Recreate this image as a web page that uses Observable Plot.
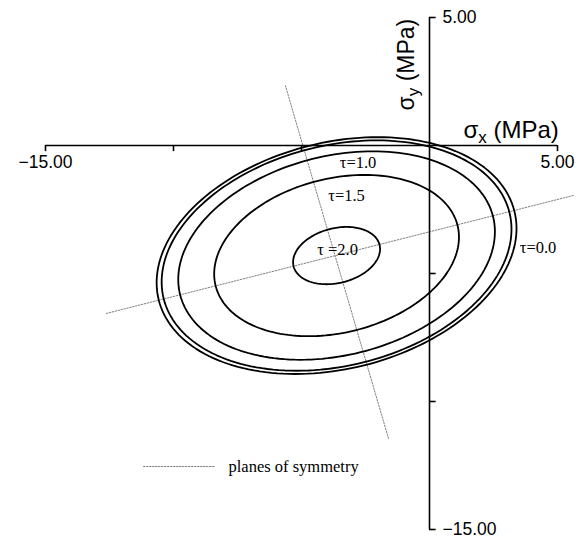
<!DOCTYPE html>
<html>
<head>
<meta charset="utf-8">
<script src="https://cdn.jsdelivr.net/npm/d3@7"></script>
<script src="https://cdn.jsdelivr.net/npm/@observablehq/plot@0.6"></script>
<style>
  html, body { margin: 0; padding: 0; background: #fff; }
  #chart svg { display: block; }
</style>
</head>
<body>
<div id="chart"></div>
<script>
// ---- data ----
const tauValues   = [0.0, 0.5, 1.0, 1.5, 2.0];
const semiMajor   = [7.16, 6.96, 6.30, 4.87, 1.73];   // MPa
const semiMinor   = [4.42, 4.30, 3.89, 3.01, 1.07];   // MPa
const centerX = -3.63, centerY = -4.30;              // MPa
const tiltDeg = 14;                                   // major axis tilt

const tauLabels = ["τ=0.0", "τ=1.0", "τ=1.5", "τ =2.0"];
const tauLabelX = [4.24, -2.79, -3.24, -3.59];
const tauLabelY = [-4.18, -0.86, -2.15, -4.26];

const symId = ["major", "major", "minor", "minor"];
const symX  = [-12.62, 5.63, -5.63, -1.60];
const symY  = [-6.56, -1.95, 2.34, -11.45];

const xTicks = [-15, -10, -5, 5];
const yTicks = [5, -5, -10, -15];

// ---- build tables ----
const th = tiltDeg * Math.PI / 180;
const ellipsePts = [];
tauValues.forEach((tau, i) => {
  const a = semiMajor[i], b = semiMinor[i];
  for (let k = 0; k <= 180; k++) {
    const t = 2 * Math.PI * k / 180;
    const u = a * Math.cos(t), v = b * Math.sin(t);
    ellipsePts.push({tau, x: centerX + u * Math.cos(th) - v * Math.sin(th),
                          y: centerY + u * Math.sin(th) + v * Math.cos(th)});
  }
});
const symLines = symId.map((id, i) => ({id, x: symX[i], y: symY[i]}));
const labels = tauLabels.map((t, i) => ({t, x: tauLabelX[i], y: tauLabelY[i]}));

const sans = "Liberation Sans, Arial, sans-serif";
const serif = "Liberation Serif, Times New Roman, serif";

const chart = Plot.plot({
  width: 585,
  height: 541,
  margin: 0,
  style: {background: "#fff", overflow: "visible"},
  x: {domain: [-15, 5], range: [45, 557], axis: null},
  y: {domain: [-15, 5], range: [529, 17], axis: null},
  marks: [
    // planes of symmetry
    Plot.line(symLines, {x: "x", y: "y", z: "id", stroke: "#808080", strokeWidth: 1, strokeDasharray: "1.5,1.5"}),
    // ellipses
    Plot.line(ellipsePts, {x: "x", y: "y", z: "tau", stroke: "black", strokeWidth: 1.8}),
    // axes
    Plot.ruleY([0], {x1: -15, x2: 5, stroke: "black", strokeWidth: 1.6}),
    Plot.ruleX([0], {y1: -15, y2: 5, stroke: "black", strokeWidth: 1.6}),
    Plot.ruleX(xTicks, {x: d => d, y1: 0, y2: -0.24, stroke: "black", strokeWidth: 1.6}),
    Plot.ruleY(yTicks, {y: d => d, x1: 0, x2: 0.26, stroke: "black", strokeWidth: 1.6}),
    // tick labels
    Plot.text([-15, 5], {x: d => d, y: 0, text: d => d < 0 ? "−" + Math.abs(d).toFixed(2) : d.toFixed(2),
      lineAnchor: "bottom", dy: 22, fontSize: 17.5, fontFamily: sans, fill: "black"}),
    Plot.text([5, -15], {x: 0, y: d => d, text: d => d < 0 ? "−" + Math.abs(d).toFixed(2) : d.toFixed(2),
      textAnchor: "start", dx: 13, fontSize: 17.5, fontFamily: sans, fill: "black"}),
    // axis titles
    Plot.text(["σx (MPa)"], {x: 1.33, y: 0.31, text: d => d, textAnchor: "start", lineAnchor: "bottom",
      fontSize: 24, fontFamily: sans, fill: "black"}),
    Plot.text(["σy (MPa)"], {x: -0.62, y: 1.37, text: d => d, textAnchor: "start", lineAnchor: "bottom",
      rotate: -90, fontSize: 23, fontFamily: sans, fill: "black"}),
    // tau labels
    Plot.text(labels, {x: "x", y: "y", text: "t", lineAnchor: "bottom", fontSize: 16.5, fontFamily: serif, fill: "black"}),
    // legend
    Plot.line([{x: -11.17, y: -12.54}, {x: -8.36, y: -12.54}], {x: "x", y: "y", stroke: "#808080", strokeWidth: 1, strokeDasharray: "1.5,1.5"}),
    Plot.text(["planes of symmetry"], {x: -7.85, y: -12.54, text: d => d, textAnchor: "start", fontSize: 16.5, fontFamily: serif, fill: "black"})
  ]
});

document.getElementById("chart").appendChild(chart);

// subscripts in axis titles
d3.select(chart).selectAll("text").each(function() {
  const s = this.textContent;
  if (s === "σx (MPa)" || s === "σy (MPa)") {
    const sub = s[1];
    this.textContent = "";
    const n = d3.select(this);
    n.append("tspan").text("σ");
    n.append("tspan").attr("dy", 5).attr("font-size", 17).text(sub);
    n.append("tspan").attr("dy", -5).text(" (MPa)");
  }
});
</script>
</body>
</html>
